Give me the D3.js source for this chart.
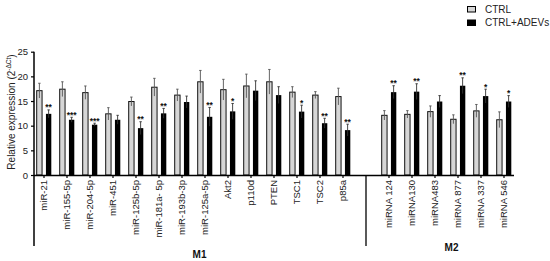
<!DOCTYPE html>
<html>
<head>
<meta charset="utf-8">
<script src="https://cdn.jsdelivr.net/npm/d3@7"></script>
<style>
  body { margin: 0; background: #fff; }
  svg { font-family: "Liberation Sans", Arial, sans-serif; }
</style>
</head>
<body>
<div id="chart"></div>
<script>
// categories per group
const m1Labels = ["miR-21", "miR-155-5p", "miR-204-5p", "miR-451", "miR-125b-5p", "miR-181a- 5p",
  "miR-193b-3p", "miR-125a-5p", "Akt2", "p110d", "PTEN", "TSC1", "TSC2", "p85a"];
const m2Labels = ["miRNA 124", "miRNA130", "miRNA483", "miRNA 877", "miRNA 337", "miRNA 546"];

// values (mean and upper error)
const ctrlValues = [17.1, 17.4, 16.7, 12.4, 14.9, 17.8, 16.2, 18.9, 17.3, 18.05, 18.9, 16.8, 16.2, 15.9,
  12.1, 12.3, 12.85, 11.3, 13.0, 11.2];
const ctrlErrors = [1.5, 1.5, 1.35, 1.25, 0.9, 1.8, 1.2, 2.3, 2.1, 2.4, 2.5, 1.1, 0.7, 1.7,
  0.95, 0.75, 1.15, 0.9, 1.3, 1.6];
const adevValues = [12.4, 11.2, 10.2, 11.2, 9.5, 12.5, 14.8, 11.8, 12.9, 17.1, 16.2, 12.85, 10.5, 9.1,
  16.8, 16.9, 14.9, 18.1, 16.0, 14.9];
const adevErrors = [0.8, 0.5, 0.3, 0.9, 1.3, 1.0, 1.2, 1.9, 1.6, 2.0, 1.7, 1.3, 1.0, 1.2,
  1.3, 1.6, 1.2, 1.6, 1.4, 1.2];
const stars = ["**", "***", "***", "", "**", "**", "", "**", "*", "", "", "*", "**", "**",
  "**", "**", "", "**", "*", "*"];

const yTicks = [0, 5, 10, 15, 20, 25];
const seriesNames = ["CTRL", "CTRL+ADEVs"];

const width = 550;
const height = 261;

const labels = m1Labels.concat(m2Labels);
const data = labels.map((label, i) => ({
  label: label,
  ctrl: ctrlValues[i],
  ctrlErr: ctrlErrors[i],
  adev: adevValues[i],
  adevErr: adevErrors[i],
  stars: stars[i]
}));

const gapKey = "__gap";
const domain = m1Labels.concat([gapKey], m2Labels);

const x = d3.scaleBand()
  .domain(domain)
  .range([32.5, 515.5])
  .padding(0);

const xInner = d3.scaleBand()
  .domain(["ctrl", "adev"])
  .range([-7.3, 7.3])
  .paddingInner(0.42);

const y = d3.scaleLinear()
  .domain([0, 25])
  .range([175, 51.7]);

const svg = d3.select("#chart")
  .append("svg")
  .attr("width", width)
  .attr("height", height);

const axisX0 = 34;
const baseY = y(0);

// bars
const groups = svg.append("g")
  .selectAll("g")
  .data(data)
  .join("g")
    .attr("transform", d => `translate(${x(d.label) + x.bandwidth() / 2},0)`);

groups.append("rect")
  .attr("x", xInner("ctrl"))
  .attr("y", d => y(d.ctrl))
  .attr("width", xInner.bandwidth())
  .attr("height", d => baseY - y(d.ctrl))
  .attr("fill", "#d6d6d6")
  .attr("stroke", "#111")
  .attr("stroke-width", 1);

groups.append("rect")
  .attr("x", xInner("adev"))
  .attr("y", d => y(d.adev))
  .attr("width", xInner.bandwidth())
  .attr("height", d => baseY - y(d.adev))
  .attr("fill", "#000");

function errorBar(sel, key, errKey, color) {
  const cx = xInner(key) + xInner.bandwidth() / 2;
  sel.append("line")
    .attr("x1", cx).attr("x2", cx)
    .attr("y1", d => y(d[key] - d[errKey]))
    .attr("y2", d => y(d[key] + d[errKey]))
    .attr("stroke", color)
    .attr("stroke-width", 0.9);
  sel.append("line")
    .attr("x1", cx - 1.2).attr("x2", cx + 1.2)
    .attr("y1", d => y(d[key] + d[errKey]))
    .attr("y2", d => y(d[key] + d[errKey]))
    .attr("stroke", color)
    .attr("stroke-width", 0.9);
}
errorBar(groups, "ctrl", "ctrlErr", "#555");
errorBar(groups, "adev", "adevErr", "#333");

// significance stars, sitting just above the cap
groups.append("text")
  .attr("x", xInner("adev") + xInner.bandwidth() / 2)
  .attr("y", d => y(d.adev + d.adevErr) + 0.5)
  .attr("text-anchor", "middle")
  .attr("font-size", 8.5)
  .attr("font-weight", "bold")
  .attr("fill", "#111")
  .text(d => d.stars);

// x axis
const xAxis = d3.axisBottom(x)
  .tickValues(labels)
  .tickSize(3)
  .tickSizeOuter(0);

const gx = svg.append("g")
  .attr("transform", `translate(0,${baseY})`)
  .call(xAxis);

gx.select(".domain")
  .attr("stroke", "#000")
  .attr("stroke-width", 1.5)
  .attr("d", `M${axisX0},0.5H514`);

gx.selectAll(".tick line")
  .attr("stroke", "#000")
  .attr("stroke-width", 1.2);

gx.selectAll(".tick text")
  .attr("transform", "rotate(-90)")
  .attr("text-anchor", "end")
  .attr("x", -5)
  .attr("y", 0)
  .attr("dy", "0.35em")
  .attr("font-size", 9.5)
  .attr("font-family", "Liberation Sans, Arial, sans-serif")
  .attr("fill", "#222");

// y axis
const yAxis = d3.axisLeft(y)
  .tickValues(yTicks)
  .tickSize(3)
  .tickSizeOuter(0);

const gy = svg.append("g")
  .attr("transform", `translate(${axisX0},0)`)
  .call(yAxis);

gy.select(".domain").remove();
gy.selectAll(".tick line")
  .attr("stroke", "#000")
  .attr("stroke-width", 1.2);
gy.selectAll(".tick text")
  .attr("font-size", 9.5)
  .attr("font-family", "Liberation Sans, Arial, sans-serif")
  .attr("fill", "#222");

// y axis line, running down to group brackets
svg.append("line")
  .attr("x1", axisX0).attr("x2", axisX0)
  .attr("y1", y(25)).attr("y2", 246)
  .attr("stroke", "#000")
  .attr("stroke-width", 1.5);

// separator between M1 and M2
const sepX = x(gapKey) + x.bandwidth() / 2;
svg.append("line")
  .attr("x1", sepX).attr("x2", sepX)
  .attr("y1", baseY).attr("y2", 246)
  .attr("stroke", "#000")
  .attr("stroke-width", 1.3);

// group labels
const m1Center = (x(m1Labels[0]) + x(m1Labels[m1Labels.length - 1]) + x.bandwidth()) / 2;
const m2Center = (x(m2Labels[0]) + x(m2Labels[m2Labels.length - 1]) + x.bandwidth()) / 2;

svg.append("text")
  .attr("x", m1Center + 6)
  .attr("y", 258)
  .attr("text-anchor", "middle")
  .attr("font-size", 10)
  .attr("font-weight", "bold")
  .attr("fill", "#111")
  .text("M1");

svg.append("text")
  .attr("x", m2Center + 5)
  .attr("y", 251)
  .attr("text-anchor", "middle")
  .attr("font-size", 10)
  .attr("font-weight", "bold")
  .attr("fill", "#111")
  .text("M2");

// y axis title
const yTitle = svg.append("text")
  .attr("transform", "translate(15,112) rotate(-90)")
  .attr("text-anchor", "middle")
  .attr("font-size", 10)
  .attr("fill", "#222");
yTitle.append("tspan").text("Relative expression (2");
yTitle.append("tspan")
  .attr("font-size", 6.5)
  .attr("dy", -4)
  .text("-ΔCt");
yTitle.append("tspan")
  .attr("dy", 4)
  .text(")");

// legend
const legend = svg.append("g")
  .attr("transform", "translate(467,5)");

const legendItems = legend.selectAll("g")
  .data(seriesNames)
  .join("g")
    .attr("transform", (d, i) => `translate(0,${i * 13.5})`);

legendItems.append("rect")
  .attr("x", 0.5)
  .attr("y", 1.5)
  .attr("width", 8)
  .attr("height", 5.5)
  .attr("fill", (d, i) => i === 0 ? "#d6d6d6" : "#000")
  .attr("stroke", "#000")
  .attr("stroke-width", 1);

legendItems.append("text")
  .attr("x", 18)
  .attr("y", 7.5)
  .attr("font-size", 10)
  .attr("fill", "#222")
  .text(d => d);
</script>
</body>
</html>
